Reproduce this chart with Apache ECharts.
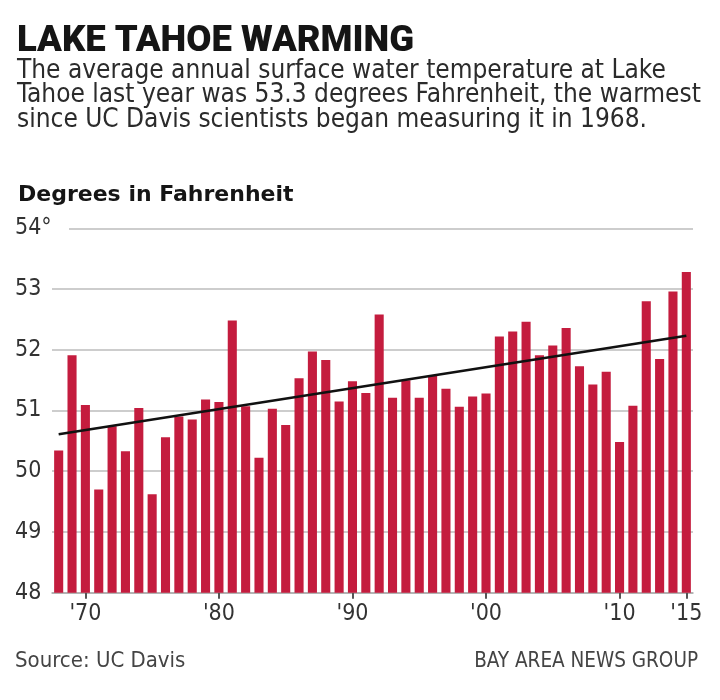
<!DOCTYPE html>
<html>
<head>
<meta charset="utf-8">
<script src="https://cdn.jsdelivr.net/npm/echarts@6/dist/echarts.min.js"></script>
<style>
html,body{margin:0;padding:0;background:#fff;}
#chart{width:720px;height:700px;}
</style>
</head>
<body>
<div id="chart"></div>
<script>
const years = ['1968','1969','1970','1971','1972','1973','1974','1975','1976','1977','1978','1979','1980','1981','1982','1983','1984','1985','1986','1987','1988','1989','1990','1991','1992','1993','1994','1995','1996','1997','1998','1999','2000','2001','2002','2003','2004','2005','2006','2007','2008','2009','2010','2011','2012','2013','2014','2015'];
const temps = [50.34,51.91,51.09,49.70,50.74,50.33,51.04,49.62,50.56,50.90,50.85,51.18,51.14,52.48,51.07,50.22,51.03,50.76,51.53,51.97,51.83,51.15,51.48,51.29,52.58,51.21,51.50,51.21,51.58,51.36,51.06,51.23,51.28,52.22,52.30,52.46,51.91,52.07,52.36,51.73,51.43,51.64,50.48,51.08,52.80,51.85,52.96,53.28];
const trendYears = ['1968','2015'];
const trendValues = [50.61, 52.23];
const labeledYears = ['1970','1980','1990','2000','2010','2015'];
const yTicks = [48,49,50,51,52,53,54];

const titleText = 'LAKE TAHOE WARMING';
const subtitleText = 'The average annual surface water temperature at Lake\nTahoe last year was 53.3 degrees Fahrenheit, the warmest\nsince UC Davis scientists began measuring it in 1968.';
const unitText = 'Degrees in Fahrenheit';
const sourceText = 'Source: UC Davis';
const creditText = 'BAY AREA NEWS GROUP';

const condFont = "'DejaVu Sans Condensed','Roboto',sans-serif";

const chart = echarts.init(document.getElementById('chart'));
const showIdx = (i) => labeledYears.indexOf(years[i]) >= 0;

chart.setOption({
  backgroundColor: '#fff',
  animation: false,
  title: [
    {text: titleText, left: 12, top: 18,
     textStyle: {fontFamily: "'Roboto',sans-serif", fontWeight: 900, fontSize: 36.5, color: '#151515'}},
    {text: subtitleText, left: 12, top: 54,
     textStyle: {fontFamily: condFont, fontWeight: 'normal', fontSize: 26, lineHeight: 24.4, color: '#2b2b2b'}},
    {text: unitText, left: 13, top: 179,
     textStyle: {fontFamily: "'DejaVu Sans',sans-serif", fontWeight: 'bold', fontSize: 22, color: '#151515'}},
    {text: sourceText, left: 10, top: 645,
     textStyle: {fontFamily: condFont, fontWeight: 'normal', fontSize: 22, color: '#444'}},
    {text: creditText, right: 17, top: 646,
     textStyle: {fontFamily: condFont, fontWeight: 'normal', fontSize: 20.5, color: '#444'}}
  ],
  grid: {left: 52, right: 27, top: 228.3, bottom: 107.3, containLabel: false},
  xAxis: {
    type: 'category',
    data: years,
    boundaryGap: true,
    axisLine: {show: true, lineStyle: {color: '#aaa', width: 1.5}},
    axisTick: {show: true, alignWithLabel: true, interval: (i) => showIdx(i), length: 6, lineStyle: {color: '#555', width: 2}},
    axisLabel: {interval: (i) => showIdx(i), formatter: (v) => "'" + v.slice(2), margin: 10,
      fontFamily: condFont, fontSize: 23, color: '#333'},
    splitLine: {show: false}
  },
  yAxis: {
    type: 'value',
    min: 48, max: 54, interval: 1,
    axisLine: {show: false},
    axisTick: {show: false},
    axisLabel: {align: 'left', margin: 37,
      formatter: (v) => (v === yTicks[yTicks.length - 1] ? v + '\u00b0' : String(v)),
      fontFamily: condFont, fontSize: 23, color: '#333'},
    splitLine: {show: true, lineStyle: {color: '#bdbdbd', width: 1.5}}
  },
  graphic: [
    {type: 'rect', left: 52, top: 225, shape: {width: 17, height: 7}, style: {fill: '#fff'}, z: 1}
  ],
  series: [
    {
      type: 'bar',
      data: temps,
      barCategoryGap: '32%',
      itemStyle: {color: '#c41c3e'},
      z: 2
    },
    {
      type: 'line',
      data: trendYears.map((y, i) => [y, trendValues[i]]),
      symbol: 'none',
      lineStyle: {color: '#111', width: 2.5},
      z: 5
    }
  ]
});
</script>
</body>
</html>
